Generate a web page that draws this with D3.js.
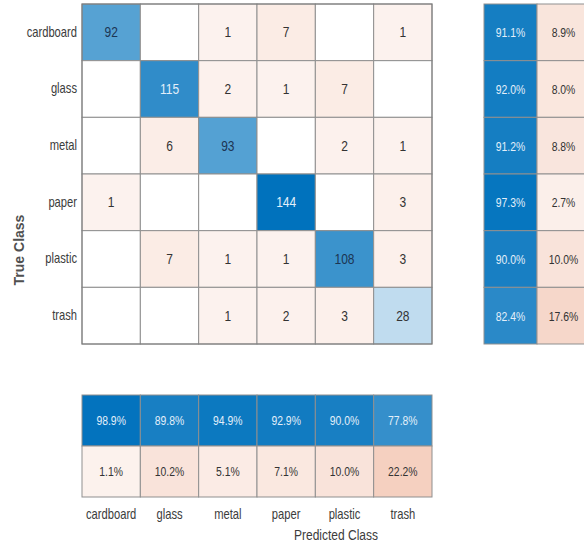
<!DOCTYPE html>
<html>
<head>
<meta charset="utf-8">
<script src="https://cdn.jsdelivr.net/npm/d3@7"></script>
<style>
  body { margin: 0; background: #fff; }
  svg { display: block; }
  text { font-family: "Liberation Sans", Arial, sans-serif; }
</style>
</head>
<body>
<svg id="chart"></svg>
<script>
const classes = ["cardboard", "glass", "metal", "paper", "plastic", "trash"];

// rows = true class, columns = predicted class
const cardboardRow = [92, 0, 1, 7, 0, 1];
const glassRow = [0, 115, 2, 1, 7, 0];
const metalRow = [0, 6, 93, 0, 2, 1];
const paperRow = [1, 0, 0, 144, 0, 3];
const plasticRow = [0, 7, 1, 1, 108, 3];
const trashRow = [0, 0, 1, 2, 3, 28];
const counts = [cardboardRow, glassRow, metalRow, paperRow, plasticRow, trashRow];

// row summary (true positive rate / false negative rate)
const rowCorrect = [91.1, 92.0, 91.2, 97.3, 90.0, 82.4];
const rowWrong = [8.9, 8.0, 8.8, 2.7, 10.0, 17.6];

// column summary (precision / false discovery rate)
const colCorrect = [98.9, 89.8, 94.9, 92.9, 90.0, 77.8];
const colWrong = [1.1, 10.2, 5.1, 7.1, 10.0, 22.2];

const W = 584, H = 544;
const svg = d3.select("#chart").attr("width", W).attr("height", H);

const x = d3.scaleBand().domain(classes).range([82, 432]);
const y = d3.scaleBand().domain(classes).range([4, 344]);
const xs = d3.scaleBand().domain(["correct", "wrong"]).range([484, 590]);
const ys = d3.scaleBand().domain(["correct", "wrong"]).range([395, 497]);

const blue = d3.interpolateRgb("#ffffff", "#0072BD");
const red = d3.interpolateRgb("#ffffff", "#D95319");
const countT = d3.scaleLinear().domain([0, 144]).range([0.067, 1]);
const pctT = d3.scaleLinear().domain([0, 100]).range([0.067, 1]);
const gridColor = "#8f8f8f";
const darkText = "#333333";
const navyText = "#1c3553";
const lightText = "#e3effa";
const squish = 0.8; // the original font is a narrow one

function label(g, px, py, str, size, color, anchor) {
  g.append("g")
    .attr("transform", `translate(${px},${py}) scale(${squish},1)`)
    .append("text")
    .attr("text-anchor", anchor || "middle")
    .attr("dominant-baseline", "central")
    .attr("font-size", size)
    .attr("fill", color)
    .text(str);
}

// t = share of the diagonal colour, -1 for red cells
function cell(g, cx, cy, w, h, fill, str, t, size) {
  g.append("rect")
    .attr("x", cx).attr("y", cy)
    .attr("width", w).attr("height", h)
    .attr("fill", fill)
    .attr("stroke", gridColor)
    .attr("stroke-width", 1);
  if (str !== "") {
    const col = t > 0.76 ? lightText : (t > 0.3 ? navyText : darkText);
    label(g, cx + w / 2, cy + h / 2, str, size, col);
  }
}

// main matrix
const main = svg.append("g");
counts.forEach((row, i) => {
  row.forEach((v, j) => {
    let fill = "#ffffff", t = 0;
    if (v > 0) {
      t = i === j ? v / 144 : 0;
      fill = i === j ? blue(countT(v)) : red(countT(v));
    }
    cell(main, x(classes[j]), y(classes[i]), x.bandwidth(), y.bandwidth(),
      fill, v > 0 ? String(v) : "", t, 15);
  });
});
main.append("rect")
  .attr("x", 82).attr("y", 4)
  .attr("width", x.range()[1] - x.range()[0])
  .attr("height", y.range()[1] - y.range()[0])
  .attr("fill", "none").attr("stroke", "#7a7a7a");

// row summary on the right
const right = svg.append("g");
classes.forEach((c, i) => {
  cell(right, xs("correct"), y(c), xs.bandwidth(), y.bandwidth(),
    blue(pctT(rowCorrect[i])), rowCorrect[i].toFixed(1) + "%", rowCorrect[i] / 100, 13);
  cell(right, xs("wrong"), y(c), xs.bandwidth(), y.bandwidth(),
    red(pctT(rowWrong[i])), rowWrong[i].toFixed(1) + "%", 0, 13);
});

// column summary at the bottom
const bottom = svg.append("g");
classes.forEach((c, j) => {
  cell(bottom, x(c), ys("correct"), x.bandwidth(), ys.bandwidth(),
    blue(pctT(colCorrect[j])), colCorrect[j].toFixed(1) + "%", colCorrect[j] / 100, 13);
  cell(bottom, x(c), ys("wrong"), x.bandwidth(), ys.bandwidth(),
    red(pctT(colWrong[j])), colWrong[j].toFixed(1) + "%", 0, 13);
});

// row labels
const rowLabels = svg.append("g");
classes.forEach(c => label(rowLabels, 77, y(c) + y.bandwidth() / 2, c, 14, "#3c3c3c", "end"));

// column labels
const colLabels = svg.append("g");
classes.forEach(c => label(colLabels, x(c) + x.bandwidth() / 2, 515, c, 14, "#3c3c3c"));

label(svg, 336, 535, "Predicted Class", 15, "#3c3c3c");

svg.append("text")
  .attr("transform", "translate(19,250) rotate(-90)")
  .attr("text-anchor", "middle")
  .attr("dominant-baseline", "central")
  .attr("font-size", 14)
  .attr("font-weight", "bold")
  .attr("fill", "#505050")
  .text("True Class");
</script>
</body>
</html>
